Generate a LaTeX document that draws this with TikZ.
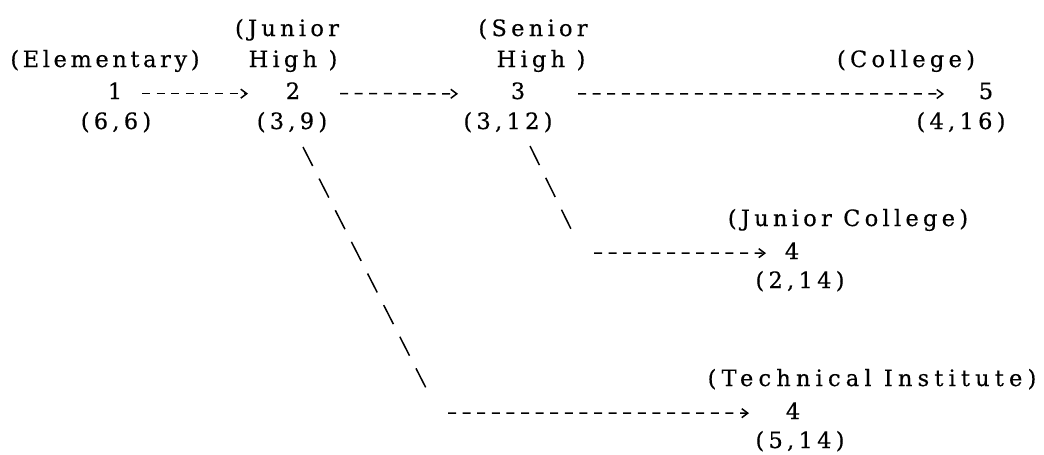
\documentclass[tikz,border=0pt]{standalone}
\usepackage{fontspec}
\setmainfont{DejaVu Serif}[LetterSpace=19,FakeBold=0.4]
\usetikzlibrary{arrows.meta}
\begin{document}
\begin{tikzpicture}[x=1pt,y=-1pt,
  lbl/.style={inner sep=0pt, anchor=base, font=\fontsize{22.5}{27}\selectfont},
  conn/.style={line width=1.5pt, dash pattern=on 8pt off 6.6pt,
    -{Straight Barb[length=6pt,width=9pt,line width=1.5pt]}},
  diag/.style={line width=1.5pt, dash pattern=on 21.3pt off 14.2pt}]
\useasboundingbox (0,0) rectangle (1044,455);
% labels
\node[lbl] (elem) at (105,67) {\addfontfeatures{LetterSpace=16}(Elementary)};
\node[lbl] (jh1) at (287,36) {(Junior};
\node[lbl] (jh2) at (293,67) {High )};
\node[lbl] (sh1) at (533,36) {(Senior};
\node[lbl] (sh2) at (541,67) {High )};
\node[lbl] (col) at (906,67) {(College)};
\node[lbl] (n1) at (115,99) {1};
\node[lbl] (n2) at (293,99) {2};
\node[lbl] (n3) at (518,99) {3};
\node[lbl] (n5) at (986,99) {5};
\node[lbl] (p66) at (116,129) {(6,6)};
\node[lbl] (p39) at (292,129) {(3,9)};
\node[lbl] (p312) at (508,129) {(3,12)};
\node[lbl] (p416) at (961,129) {(4,16)};
\node[lbl] (jc) at (848,226) {(Junior College)};
\node[lbl] (n4a) at (792,259) {4};
\node[lbl] (p214) at (800,288) {(2,14)};
\node[lbl] (ti) at (872,386) {\addfontfeatures{LetterSpace=23}(Technical Institute)};
\node[lbl] (n4b) at (793,419) {4};
\node[lbl] (p514) at (800,448) {(5,14)};
% free ends
\coordinate (d1b) at (426,388);
\coordinate (t1s) at (448,413);
\coordinate (d2b) at (571,229);
\coordinate (j1s) at (594,253);
% connectors
\draw[conn] ([xshift=27pt,yshift=-3pt]n1.center) -- ([xshift=-45pt,yshift=-3pt]n2.center);
\draw[conn] ([xshift=47pt,yshift=-3pt]n2.center) -- ([xshift=-60pt,yshift=-3pt]n3.center);
\draw[conn] ([xshift=60pt,yshift=-3pt]n3.center) -- ([xshift=-42pt,yshift=-3pt]n5.center);
\draw[diag] ([shift={(11,18)}]p39.base) -- (d1b);
\draw[conn] (t1s) -- ([xshift=-44pt,yshift=-2.5pt]n4b.center);
\draw[diag] ([shift={(22,17)}]p312.base) -- (d2b);
\draw[conn] (j1s) -- ([xshift=-26pt,yshift=-2.5pt]n4a.center);
\end{tikzpicture}
\end{document}
